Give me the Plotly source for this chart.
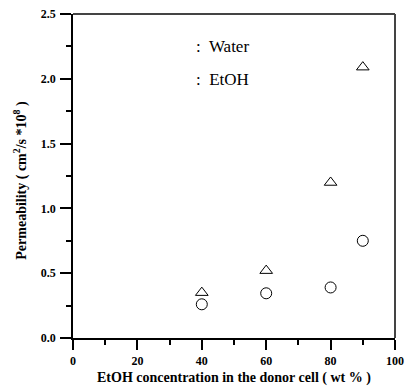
import plotly.graph_objects as go

# EtOH concentration in the donor cell (wt %)
conc = [40, 60, 80, 90]
# Permeability (cm^2/s * 10^8)
water_perm = [0.26, 0.345, 0.39, 0.75]
etoh_perm = [0.35, 0.52, 1.20, 2.09]

x_ticks = [0, 20, 40, 60, 80, 100]
y_ticks = [0.0, 0.5, 1.0, 1.5, 2.0, 2.5]

x_title = "<b>EtOH concentration in the donor cell ( wt % )</b>"
y_title = "<b>Permeability ( cm<sup>2</sup>/s *10<sup>8</sup> )</b>"

serif = "Liberation Serif"

fig = go.Figure()
fig.add_trace(go.Scatter(
    x=conc, y=water_perm, mode="markers", name="Water",
    marker=dict(symbol="circle-open", size=11, color="black", line=dict(width=1)),
))
fig.add_trace(go.Scatter(
    x=conc, y=etoh_perm, mode="markers", name="EtOH",
    marker=dict(symbol="triangle-up-open", size=11, color="black", line=dict(width=1)),
))

# Frame lines on the top and right edges
fig.add_shape(type="line", xref="paper", yref="paper", x0=0, x1=1, y0=1, y1=1,
              line=dict(color="#444444", width=2))
fig.add_shape(type="line", xref="paper", yref="paper", x0=1, x1=1, y0=0, y1=1,
              line=dict(color="#444444", width=2))

# Legend labels
fig.add_annotation(x=0.376, y=0.9, xref="paper", yref="paper", text=":&nbsp; Water",
                   showarrow=False, xanchor="left", yanchor="middle",
                   font=dict(family=serif, size=17, color="black"))
fig.add_annotation(x=0.376, y=0.798, xref="paper", yref="paper", text=":&nbsp; EtOH",
                   showarrow=False, xanchor="left", yanchor="middle",
                   font=dict(family=serif, size=17, color="black"))

# Axis titles
fig.add_annotation(x=0.5, y=-0.124, xref="paper", yref="paper", text=x_title,
                   showarrow=False, xanchor="center", yanchor="middle",
                   font=dict(family=serif, size=14, color="black"))
fig.add_annotation(x=-0.162, y=0.488, xref="paper", yref="paper", text=y_title,
                   showarrow=False, xanchor="center", yanchor="middle", textangle=-90,
                   font=dict(family=serif, size=14, color="black"))

fig.update_layout(
    width=408, height=387,
    margin=dict(l=73, r=13, t=14, b=49),
    paper_bgcolor="white", plot_bgcolor="white",
    showlegend=False,
    font=dict(family=serif, color="black"),
    xaxis=dict(
        range=[0, 100], tickvals=x_ticks, ticktext=[f"<b>{v}</b>" for v in x_ticks],
        showgrid=False, zeroline=False, showline=True, linecolor="black", linewidth=1.5,
        ticks="outside", ticklen=10, tickwidth=1.5, tickcolor="black",
        tickfont=dict(family=serif, size=12), ticklabelstandoff=1, automargin=False,
        minor=dict(tickvals=[10, 30, 50, 70, 90], ticks="outside", ticklen=5, tickwidth=1.5, tickcolor="black"),
    ),
    yaxis=dict(
        range=[0, 2.5], tickvals=y_ticks, ticktext=[f"<b>{v:.1f}</b>" for v in y_ticks],
        showgrid=False, zeroline=False, showline=True, linecolor="black", linewidth=1.5,
        ticks="outside", ticklen=11, tickwidth=1.5, tickcolor="black",
        tickfont=dict(family=serif, size=12), ticklabelstandoff=2, automargin=False,
        minor=dict(tickvals=[0.25, 0.75, 1.25, 1.75, 2.25], ticks="outside", ticklen=5, tickwidth=1.5, tickcolor="black"),
    ),
)

fig.write_html("out.html")
